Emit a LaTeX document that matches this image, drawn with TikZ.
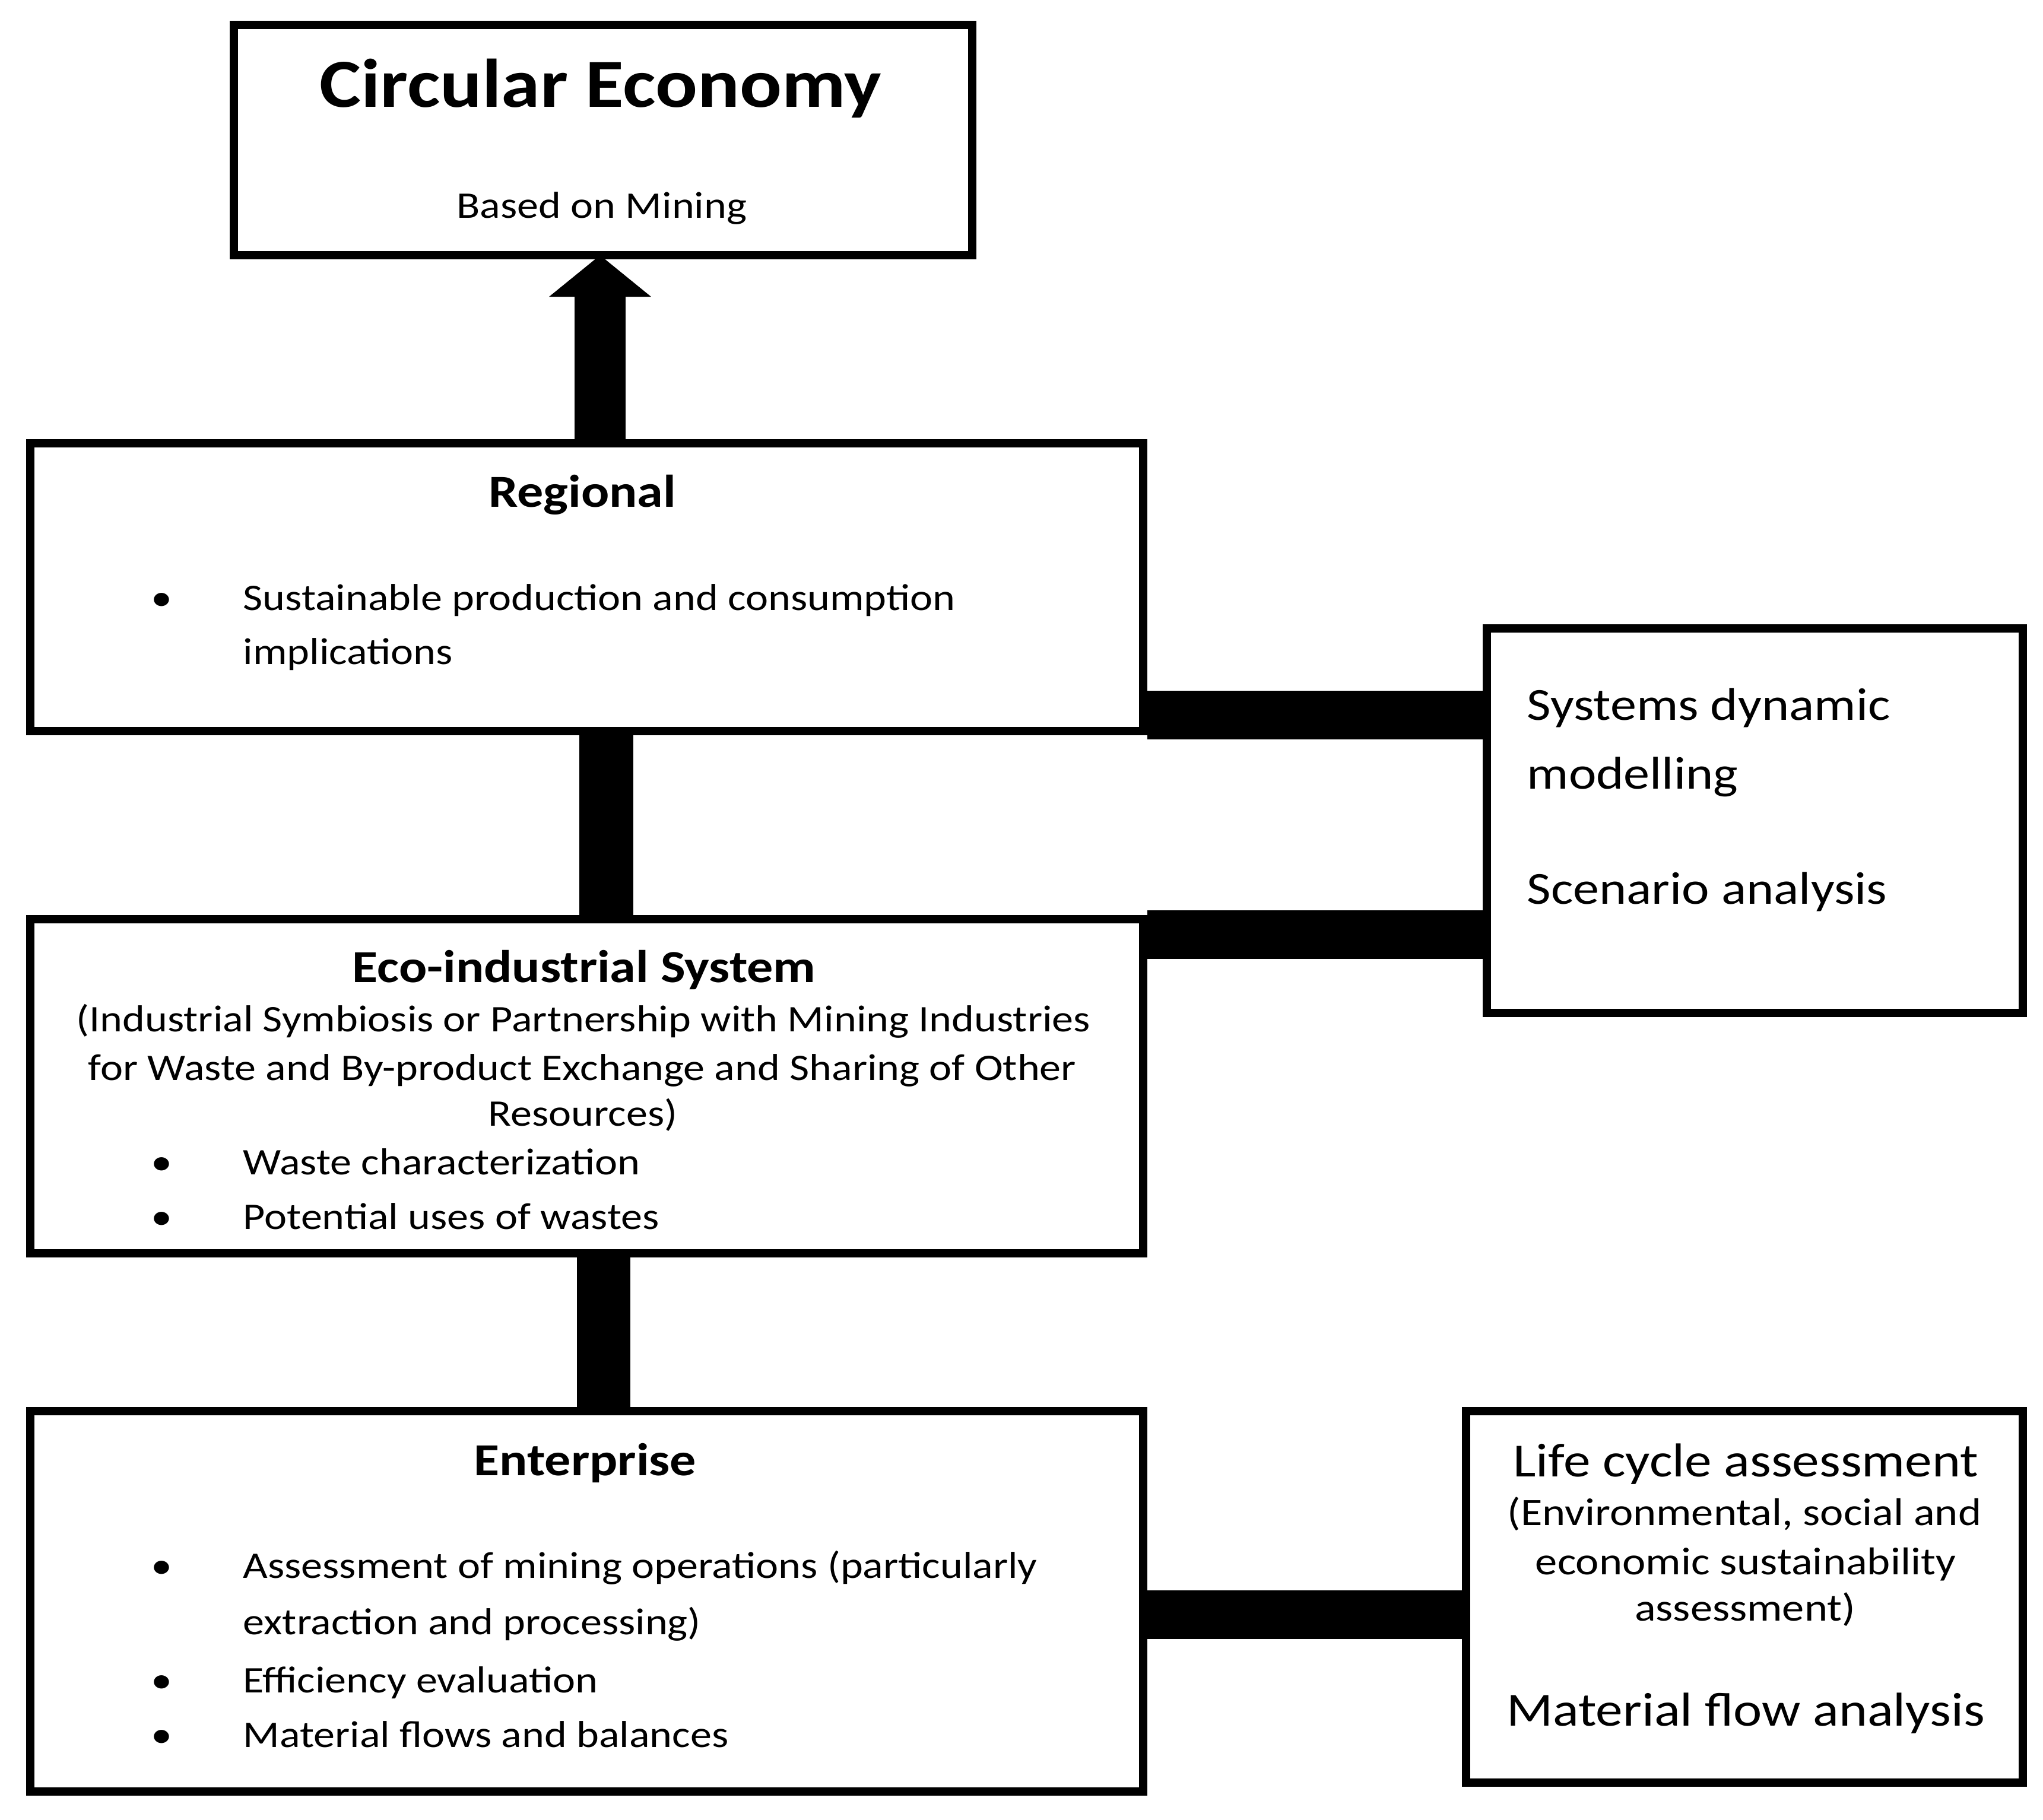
\documentclass[tikz,border=0pt]{standalone}
\usepackage{fontspec}
\setmainfont{Carlito}[FakeStretch=1.14]
\usetikzlibrary{arrows.meta}

\tikzset{
  levelbox/.style={draw,line width=1.4mm,inner sep=0pt},
  headtext/.style={anchor=base,inner sep=0pt,font=\bfseries\fontsize{22}{26}\selectfont},
  bodytext/.style={anchor=base west,inner sep=0pt,font=\fontsize{18}{22}\selectfont},
  midtext/.style={anchor=base,inner sep=0pt,font=\fontsize{18}{22}\selectfont},
  dot/.style={anchor=base,inner sep=0pt,font=\fontsize{18}{22}\selectfont},
  sidetext/.style={anchor=base west,inner sep=0pt,font=\fontsize{22}{26}\selectfont},
  bar/.style={line width=8.2mm}
}

\begin{document}
\begin{tikzpicture}
        \useasboundingbox (0,0) rectangle (34.42,-30.66);

        % Boxes
        \node (circ)       at (10.16,-2.36)   [levelbox,minimum width=12.44cm,minimum height=3.88cm] {};
        \node (regional)   at (9.885,-9.895)  [levelbox,minimum width=18.75cm,minimum height=4.85cm] {};
        \node (eco)        at (9.885,-18.305) [levelbox,minimum width=18.75cm,minimum height=5.63cm] {};
        \node (enterprise) at (9.885,-26.985) [levelbox,minimum width=18.75cm,minimum height=6.41cm] {};
        \node (sdm)        at (29.565,-13.83) [levelbox,minimum width=9.03cm,minimum height=6.48cm] {};
        \node (lca)        at (29.39,-26.91)  [levelbox,minimum width=9.38cm,minimum height=6.26cm] {};

        % Circular economy
        \node (circtitle) at (10.12,-1.81) [anchor=base,inner sep=0pt,font=\bfseries\fontsize{33}{40}\selectfont] {Circular Economy};
        \node (circsub)   at (10.14,-3.68) [midtext] {Based on Mining};

        % Regional
        \node (reghead)  at (9.81,-8.54)  [headtext] {Regional};
        \node (regdot)   at (2.72,-10.28) [dot] {\textbullet};
        \node (regitemA) at (4.09,-10.28) [bodytext] {Sustainable production and consumption};
        \node (regitemB) at (4.09,-11.19) [bodytext] {implications};

        % Eco-industrial system
        \node (ecohead)  at (9.84,-16.55) [headtext] {Eco-industrial System};
        \node (ecolineA) at (9.83,-17.38) [midtext] {(Industrial Symbiosis or Partnership with Mining Industries};
        \node (ecolineB) at (9.81,-18.20) [midtext] {for Waste and By-product Exchange and Sharing of Other};
        \node (ecolineC) at (9.82,-18.97) [midtext] {Resources)};
        \node (ecodotA)  at (2.72,-19.79) [dot] {\textbullet};
        \node (ecoitemA) at (4.09,-19.79) [bodytext] {Waste characterization};
        \node (ecodotB)  at (2.72,-20.71) [dot] {\textbullet};
        \node (ecoitemB) at (4.09,-20.71) [bodytext] {Potential uses of wastes};

        % Enterprise
        \node (enthead)  at (9.86,-24.86) [headtext] {Enterprise};
        \node (entdotA)  at (2.72,-26.59) [dot] {\textbullet};
        \node (entitemA) at (4.09,-26.59) [bodytext] {Assessment of mining operations (particularly};
        \node (entitemB) at (4.09,-27.54) [bodytext] {extraction and processing)};
        \node (entdotC)  at (2.72,-28.52) [dot] {\textbullet};
        \node (entitemC) at (4.09,-28.52) [bodytext] {Efficiency evaluation};
        \node (entdotD)  at (2.72,-29.44) [dot] {\textbullet};
        \node (entitemD) at (4.09,-29.44) [bodytext] {Material flows and balances};

        % Methods boxes
        \node (sdmA) at (25.72,-12.13) [sidetext] {Systems dynamic};
        \node (sdmB) at (25.72,-13.29) [sidetext] {modelling};
        \node (sdmC) at (25.72,-15.23) [sidetext] {Scenario analysis};

        \node (lcaA) at (29.41,-24.88) [anchor=base,inner sep=0pt,font=\fontsize{22.8}{27}\selectfont] {Life cycle assessment};
        \node (lcaB) at (29.39,-25.70) [anchor=base,inner sep=0pt,font=\fontsize{18.6}{23}\selectfont] {(Environmental, social and};
        \node (lcaC) at (29.41,-26.53) [anchor=base,inner sep=0pt,font=\fontsize{18.6}{23}\selectfont] {economic sustainability};
        \node (lcaD) at (29.40,-27.31) [anchor=base,inner sep=0pt,font=\fontsize{18.6}{23}\selectfont] {assessment)};
        \node (lcaE) at (29.41,-29.08) [anchor=base,inner sep=0pt,font=\fontsize{22.8}{27}\selectfont] {Material flow analysis};

        % Upward arrow
        \draw[line width=8.6mm,-{Triangle[length=7mm,width=16.8mm]},shorten >=-0.7mm]
            ([xshift=2.25mm]regional.north) -- ([xshift=2.25mm]regional.north |- circ.south);

        % Vertical links
        \draw[bar,line width=9.1mm] ([xshift=3.3mm]regional.south) -- ([xshift=3.3mm]regional.south |- eco.north);
        \draw[bar,line width=9.0mm] ([xshift=2.8mm]eco.south) -- ([xshift=2.8mm]eco.south |- enterprise.north);

        % Horizontal links
        \draw[bar] ([yshift=3.4mm]regional.south east) -- ([yshift=3.4mm]regional.south east -| sdm.west);
        \draw[bar] ([yshift=-3.3mm]eco.north east) -- ([yshift=-3.3mm]eco.north east -| sdm.west);
        \draw[bar] ([yshift=-2.2mm]enterprise.east) -- ([yshift=-2.2mm]enterprise.east -| lca.west);
\end{tikzpicture}
\end{document}
